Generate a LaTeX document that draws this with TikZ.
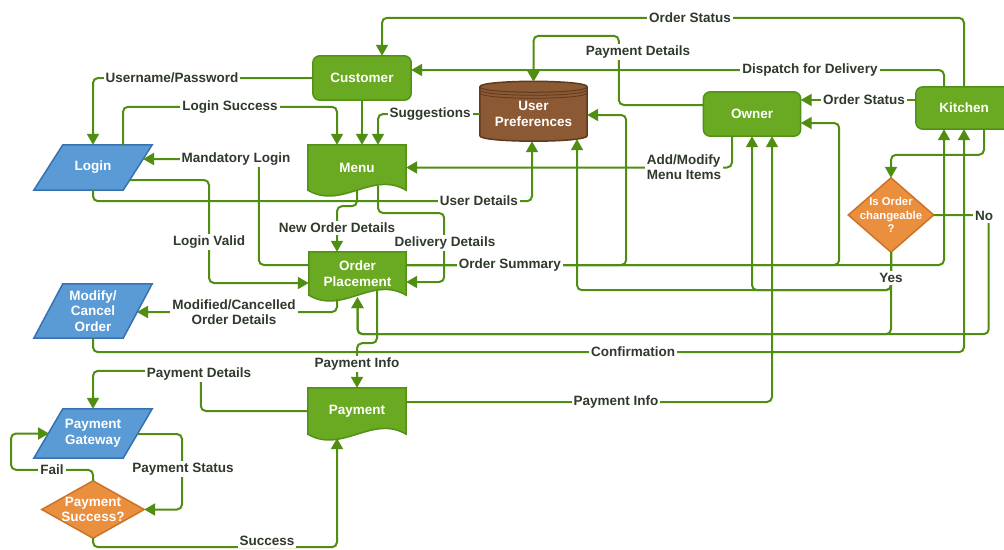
\documentclass[tikz,border=0pt]{standalone}
\usepackage{fontspec}
\setmainfont{Liberation Sans}
\usetikzlibrary{arrows.meta,calc,backgrounds}
\definecolor{gfill}{RGB}{106,170,35}
\definecolor{gedge}{RGB}{82,145,22}
\definecolor{gline}{RGB}{80,142,18}
\definecolor{bfill}{RGB}{91,155,213}
\definecolor{bedge}{RGB}{56,112,180}
\definecolor{ofill}{RGB}{233,143,62}
\definecolor{oedge}{RGB}{205,115,40}
\definecolor{brfill}{RGB}{139,90,52}
\definecolor{bredge}{RGB}{95,58,28}
\definecolor{lbl}{RGB}{48,58,44}
\tikzset{
  flow/.style={draw=gline,line width=2pt,rounded corners=5pt,-{Triangle[length=11pt,width=12pt]}},
  wire/.style={draw=gline,line width=2pt,rounded corners=5pt},
  lab/.style={fill=white,text=lbl,font=\fontsize{13.5}{15}\selectfont\bfseries,inner sep=2pt,align=center},
  ntext/.style={text=white,font=\fontsize{13.5}{15.5}\selectfont\bfseries,align=center,inner sep=0pt},
  dtext/.style={text=white,font=\fontsize{11.3}{13.5}\selectfont\bfseries,align=center,inner sep=0pt},
  greenbox/.style={fill=gfill,draw=gedge,line width=1.5pt},
  bluebox/.style={fill=bfill,draw=bedge,line width=1.5pt},
  orangebox/.style={fill=ofill,draw=oedge,line width=1.5pt},
  cylbox/.style={fill=brfill,draw=bredge,line width=1.5pt},
}
\begin{document}
\begin{tikzpicture}[x=1pt,y=-1pt]
\useasboundingbox (0,0) rectangle (1004,549);
% ---- nodes ----
\node[ntext,minimum width=98pt,minimum height=44pt] (customer) at (362,78) {Customer};
\node[ntext,minimum width=97pt,minimum height=44pt] (owner) at (752,114) {Owner};
\node[ntext,minimum width=96pt,minimum height=42pt] (kitchen) at (964,108) {Kitchen};
\node[ntext,minimum width=98pt,minimum height=45pt] (menu) at (357,167.5) {Menu};
\node[ntext,minimum width=97pt,minimum height=43pt] (op) at (357.5,273.5) {Order\\Placement};
\node[ntext,minimum width=98pt,minimum height=46pt] (payment) at (357,411) {Payment};
\node[ntext,minimum width=107pt,minimum height=54pt] (pref) at (533.5,114) {User\\Preferences};
\node[ntext,minimum width=89pt,minimum height=45pt] (login) at (93,167.5) {Login};
\node[ntext,minimum width=89pt,minimum height=54pt] (modify) at (93,311) {Modify/\\Cancel\\Order};
\node[ntext,minimum width=89pt,minimum height=49pt] (gateway) at (93,433.5) {Payment\\Gateway};
\node[dtext,minimum width=85pt,minimum height=74pt] (change) at (891,215) {Is Order\\changeable\\?};
\node[ntext,minimum width=102pt,minimum height=57pt] (success) at (93,509.5) {Payment\\Success?};
% ---- shapes ----
\begin{pgfonlayer}{background}
\fill[white] (0,0) rectangle (1004,549);
\path[greenbox,rounded corners=7pt] (customer.north west) rectangle (customer.south east);
\path[greenbox,rounded corners=7pt] (owner.north west) rectangle (owner.south east);
\path[greenbox,rounded corners=7pt] (kitchen.north west) rectangle (kitchen.south east);
\foreach \d in {menu,op,payment}{
  \path[greenbox] (\d.north west) -- (\d.north east) -- (\d.south east)
    .. controls +(-34,-20) and +(34,20) .. (\d.south west) -- cycle;
}
\foreach \p in {login,modify,gateway}{
  \path[bluebox] ($(\p.north west)+(14.5,0)$) -- ($(\p.north east)+(14.5,0)$)
    -- ($(\p.south east)+(-14.5,0)$) -- ($(\p.south west)+(-14.5,0)$) -- cycle;
}
\foreach \q in {change,success}{
  \path[orangebox] (\q.north) -- (\q.east) -- (\q.south) -- (\q.west) -- cycle;
}
\path[cylbox] (pref.north west) -- ($(pref.south west)+(0,-5.5)$)
  .. controls +(0,7.3) and +(0,7.3) .. ($(pref.south east)+(0,-5.5)$)
  -- (pref.north east) .. controls +(0,-7.3) and +(0,-7.3) .. (pref.north west) -- cycle;
\draw[bredge,line width=1pt] (pref.north west) .. controls +(0,7.3) and +(0,7.3) .. (pref.north east);
\draw[bredge,line width=0.8pt] ($(pref.north west)+(0,3)$) .. controls +(0,7.3) and +(0,7.3) .. ($(pref.north east)+(0,3)$);
\draw[bredge,line width=0.8pt] ($(pref.north west)+(0,6)$) .. controls +(0,7.3) and +(0,7.3) .. ($(pref.north east)+(0,6)$);
\end{pgfonlayer}
% ---- connectors ----
\draw[flow] (kitchen.north) |- ($(customer.north)+(20,-38)$) -- ($(customer.north)+(20,0)$);
\draw[flow] ($(kitchen.north)+(-20,0)$) |- ($(customer.east)+(0,-8)$);
\draw[flow] ($(owner.west)+(0,-9)$) -- ++(-84.5,0) |- ($(pref.north)+(0,-51)$) -- ($(pref.north)+(0,-5)$);
\draw[flow] ($(kitchen.west)+(0,-8)$) -- ($(owner.east)+(0,-14)$);
\draw[flow] (customer.west) -| (login.north);
\draw[flow] ($(login.north)+(30,0)$) |- ($(menu.north)+(-20,-38)$) -- ($(menu.north)+(-20,0)$);
\draw[flow] (customer.south) -- (customer.south |- menu.north);
\draw[flow] (pref.west) -| ($(menu.north)+(21,0)$);
\draw[flow] ($(op.west)+(0,-8.5)$) -- ++(-50,0) |- ($(login.center)+(50,-8.5)$);
\draw[flow] ($(login.center)+(36,12.5)$) -- ++(80,0) |- ($(op.west)+(0,9.5)$);
\draw[flow] (login.south) |- ($(pref.south)+(-1.5,60)$) -- ($(pref.south)+(-1.5,0)$);
\draw[flow] ($(owner.south)+(-20,0)$) |- (menu.east);
\draw[flow] (menu.south) -- ++(0,16) -| ($(op.north)+(-20.5,0)$);
\draw[flow] ($(menu.south)+(21,-4)$) |- ($(op.east)+(38,-60.5)$) |- ($(op.east)+(0,8.5)$);
\draw[flow] ($(op.east)+(0,-8.5)$) -| ($(kitchen.south)+(-20,0)$);
\draw[flow] ($(op.east)+(0,-8.5)$) -- ++(220,0) |- ($(pref.east)+(0,1)$);
\draw[flow] ($(op.east)+(0,-8.5)$) -- ++(433,0) |- ($(owner.east)+(0,9)$);
\draw[flow] ($(kitchen.south)+(20,0)$) |- ($(change.north)+(0,-23)$) -- (change.north);
\draw[flow] (change.south) |- ($(owner.south)+(0,154)$) -- (owner.south);
\draw[flow] (change.south) |- ($(pref.south)+(43.5,149)$) -- ($(pref.south)+(43.5,-2)$);
\draw[flow] (change.south) |- ($(op.south)+(0,39)$) -- ($(op.south)+(0,2)$);
\draw[flow] (change.east) -- ++(55,0) |- ($(op.south)+(0,39)$) -- ($(op.south)+(0,2)$);
\draw[flow] (modify.south) |- ($(kitchen.south)+(0,223)$) -- (kitchen.south);
\draw[flow] ($(op.south)+(-20.5,4)$) |- ($(modify.center)+(44,1)$);
\draw[flow] ($(op.south)+(19.5,-4)$) -- ($(op.south)+(19.5,48)$) -| (payment.north);
\draw[flow] ($(payment.east)+(0,-9)$) -| ($(owner.south)+(20,0)$);
\draw[flow] (payment.west) -- ++(-107,0) |- ($(gateway.north)+(0,-38)$) -- (gateway.north);
\draw[flow] ($(gateway.center)+(44,0.5)$) -- ++(45,0) |- (success.east);
\draw[flow] (success.north) -- ++(0,-11) -| ($(gateway.center)+(-82,0)$) -- ($(gateway.center)+(-44,0)$);
\draw[flow] (success.south) |- ($(payment.south)+(-20,113)$) -- ($(payment.south)+(-20,4)$);
% ---- labels ----
\node[lab] (l1) at (690,18) {Order Status};
\node[lab] (l2) at (638,52) {Payment Details};
\node[lab] (l3) at (810,70) {Dispatch for Delivery};
\node[lab] (l4) at (864,100) {Order Status};
\node[lab] (l5) at (172,78) {Username/Password};
\node[lab] (l6) at (230,107) {Login Success};
\node[lab] (l7) at (430,114) {Suggestions};
\node[lab] (l8) at (236,159) {Mandatory Login};
\node[lab,align=left] (l9) at (684,167.5) {Add/Modify\\Menu Items};
\node[lab] (l10) at (479,201) {User Details};
\node[lab] (l11) at (984,216) {No};
\node[lab] (l12) at (337,228) {New Order Details};
\node[lab] (l13) at (209,242) {Login Valid};
\node[lab] (l14) at (445,243) {Delivery Details};
\node[lab] (l15) at (510,265) {Order Summary};
\node[lab] (l16) at (891,278) {Yes};
\node[lab] (l17) at (234,312) {Modified/Cancelled\\Order Details};
\node[lab] (l18) at (633,352) {Confirmation};
\node[lab] (l19) at (357,364) {Payment Info};
\node[lab] (l20) at (199,374) {Payment Details};
\node[lab] (l21) at (616,402) {Payment Info};
\node[lab] (l22) at (183,469) {Payment Status};
\node[lab] (l23) at (52,470) {Fail};
\node[lab] (l24) at (267,541) {Success};
\end{tikzpicture}
\end{document}
